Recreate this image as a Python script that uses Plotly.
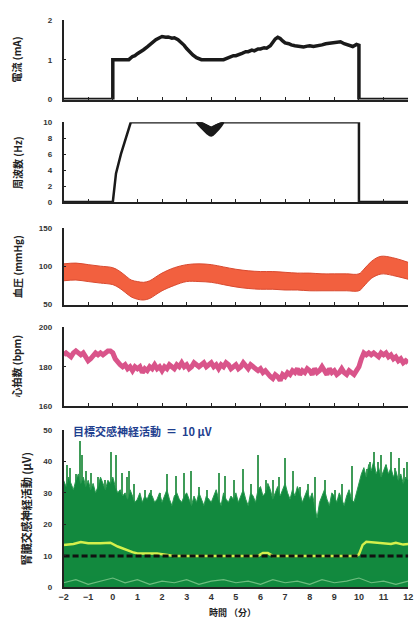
import plotly.graph_objects as go

W, H = 420, 626

# ---------------- data ----------------
# stimulation current (mA)
cur_t = [-2, 0, 0, 0.65, 0.8, 0.9, 1.0, 1.15, 1.25, 1.4, 1.5, 1.65, 1.75, 1.9, 2.0, 2.15, 2.25, 2.4, 2.5,
         2.65, 2.75, 2.9, 3.0, 3.15, 3.25, 3.4, 3.5, 3.6, 4.5, 4.65, 4.75, 4.9, 5.0, 5.15, 5.25, 5.4, 5.5,
         5.65, 5.75, 5.9, 6.0, 6.15, 6.25, 6.4, 6.5, 6.6, 6.7, 6.8, 6.9, 7.0, 7.15, 7.25, 7.4, 7.5, 7.65,
         7.75, 7.9, 8.0, 8.15, 8.25, 8.4, 8.5, 8.65, 8.75, 8.9, 9.0, 9.15, 9.25, 9.4, 9.5, 9.65, 9.75,
         9.9, 10.0, 10.0, 12]
cur_v = [0, 0, 1.0, 1.0, 1.08, 1.1, 1.15, 1.2, 1.25, 1.32, 1.38, 1.45, 1.5, 1.55, 1.58, 1.56, 1.57, 1.54,
         1.55, 1.5, 1.45, 1.36, 1.28, 1.18, 1.12, 1.05, 1.02, 1.0, 1.0, 1.04, 1.06, 1.1, 1.1, 1.15, 1.16,
         1.2, 1.2, 1.24, 1.22, 1.27, 1.27, 1.3, 1.29, 1.35, 1.45, 1.52, 1.56, 1.53, 1.47, 1.42, 1.4, 1.37,
         1.35, 1.34, 1.33, 1.32, 1.34, 1.35, 1.33, 1.34, 1.35, 1.37, 1.4, 1.41, 1.43, 1.44, 1.46, 1.45,
         1.4, 1.38, 1.34, 1.33, 1.38, 1.36, 0, 0]

# stimulation frequency (Hz)
frq_t = [-2, 0, 0.13, 0.33, 0.73, 3.4, 3.6, 3.8, 4.0, 4.2, 4.4, 4.5, 10.0, 10.0, 12]
frq_v = [0, 0, 3.6, 6.0, 10, 10, 9.9, 9.6, 9.3, 9.6, 9.9, 10, 10, 0, 0]
dip_t = [3.4, 3.6, 3.8, 4.0, 4.2, 4.4, 4.5]
dip_hi = [10, 9.9, 9.6, 9.3, 9.6, 9.9, 10]
dip_lo = [10, 9.3, 8.7, 8.3, 8.8, 9.5, 10]

# blood pressure band (mmHg)
bp_t = [-2, -1.5, -1, -0.5, 0, 0.25, 0.5, 0.75, 1, 1.25, 1.5, 1.75, 2, 2.5, 3, 3.5, 4, 4.5, 5, 5.5,
        6, 6.5, 7, 7.5, 8, 8.5, 9, 9.5, 10, 10.2, 10.5, 10.8, 11, 11.5, 12]
bp_hi = [103, 104, 102, 100, 98, 94, 88, 82, 80, 79, 81, 86, 91, 98, 102, 103, 102, 99, 96, 94,
         93, 93, 92, 91, 91, 90, 90, 90, 90, 96, 106, 112, 113, 110, 105]
bp_lo = [81, 82, 80, 78, 76, 72, 66, 60, 57, 56, 58, 63, 68, 75, 80, 80, 79, 76, 73, 71,
         70, 70, 69, 69, 68, 68, 68, 68, 68, 74, 84, 89, 90, 87, 83]

# heart rate (bpm), every 0.1 min from -2 to 12
hr_v = [186, 187, 186, 185, 187, 188, 187, 186, 187, 185,
        183, 184, 186, 187, 186, 187, 186, 187, 188, 188,
        187, 184, 182, 181, 180, 181, 179, 180, 178, 180,
        179, 180, 177, 179, 178, 180, 179, 181, 179, 180,
        178, 180, 179, 181, 180, 179, 181, 180, 182, 180,
        181, 179, 180, 182, 181, 180, 181, 182, 180, 181,
        182, 180, 181, 179, 181, 180, 182, 181, 179, 180,
        181, 179, 180, 182, 180, 179, 181, 180, 179, 178,
        179, 177, 178, 176, 175, 174, 176, 175, 173, 176,
        175, 177, 176, 178, 177, 179, 176, 178, 177, 179,
        178, 176, 179, 177, 178, 180, 178, 176, 179, 177,
        178, 176, 177, 179, 177, 176, 178, 177, 176, 178,
        180, 184, 187, 186, 187, 186, 187, 186, 185, 187,
        186, 187, 185, 186, 184, 185, 183, 184, 182, 183,
        182]

# renal sympathetic nerve activity (uV): dense envelope every 0.1 min
rsna_body = [34, 32, 35, 33, 31, 34, 36, 33, 35, 32,
             34, 31, 33, 30, 32, 35, 33, 31, 34, 33,
             35, 32, 30, 31, 29, 30, 28, 31, 29, 27,
             28, 30, 27, 29, 28, 30, 29, 27, 28, 30,
             27, 29, 31, 28, 26, 29, 30, 28, 27, 29,
             30, 28, 26, 29, 27, 30, 28, 26, 29, 28,
             27, 29, 31, 28, 26, 30, 28, 27, 29, 28,
             30, 27, 29, 31, 28, 26, 30, 29, 27, 31,
             32, 29, 30, 33, 31, 28, 30, 32, 29, 31,
             33, 30, 28, 31, 29, 32, 30, 27, 29, 31,
             28, 30, 26, 22, 27, 29, 31, 28, 26, 30,
             29, 27, 30, 28, 26, 29, 31, 28, 27, 30,
             33, 36, 38, 35, 39, 37, 40, 36, 38, 35,
             37, 39, 36, 38, 35, 37, 34, 36, 33, 35,
             34]
# tall individual bursts (time, height)
spike_t = [-1.87, -1.74, -1.5, -1.34, -1.25, -1.1, -0.88, -0.6, -0.35, -0.08, 0.1, 0.38, 0.55, 0.65,
           0.85, 1.3, 1.55, 1.9, 2.17, 2.56, 2.9, 3.16, 3.5, 3.8, 4.3, 4.55, 4.9, 5.28, 5.6, 5.87,
           6.2, 6.5, 6.75, 7.0, 7.3, 7.6, 7.9, 8.2, 8.6, 9.0, 9.3, 9.7, 9.95, 10.3, 10.45, 10.6,
           10.75, 10.9, 11.1, 11.3, 11.45, 11.6, 11.8, 11.95]
spike_v = [39, 38, 36, 46.5, 42, 37, 36.5, 35, 34, 43, 42, 36.5, 35, 37,
           33, 31, 31, 30, 36, 35.5, 36.5, 37, 32, 31, 36.5, 35.5, 34, 37.6, 33, 42,
           34, 34, 35, 41, 37, 32, 33, 35, 34, 31, 33, 38.6, 30, 37.6, 40, 43,
           40, 42, 39, 43, 38, 41, 38, 40]
# low-level baseline noise (uV), every 0.5 min
floor_v = [1.5, 2.5, 1.0, 2.0, 3.0, 1.5, 2.5, 1.0, 2.0, 1.5, 2.5, 1.0, 2.0, 2.5, 1.5,
           2.0, 1.0, 2.5, 1.5, 2.0, 1.0, 2.5, 1.5, 2.0, 3.0, 1.5, 2.0, 1.0, 2.0]
# mean activity (uV)
mean_t = [-2, -1.6, -1.3, -1.0, -0.5, -0.1, 0.2, 0.5, 0.8, 1.0, 1.5, 1.8, 2.5, 5.9, 6.1, 6.3, 6.5,
          9.9, 10.0, 10.15, 10.3, 10.6, 11.0, 11.3, 11.5, 11.8, 12]
mean_v = [13.5, 13.8, 14.4, 14.0, 14.0, 14.2, 13.0, 12.0, 11.2, 10.8, 10.7, 10.8, 10.0, 10.0, 10.9,
          10.9, 10.0, 10.0, 10.5, 13.5, 14.5, 14.3, 14.2, 13.8, 14.2, 13.6, 13.8]
target = 10

t_grid = [round(-2 + 0.1 * i, 1) for i in range(141)]
t_half = [-2 + 0.5 * i for i in range(29)]

# ---------------- layout helpers ----------------
X0, X1 = 60, 413
panels = [(16, 97), (120, 201), (227, 305), (328, 408), (432, 592)]


def ydom(top, bot):
    return [1 - bot / H, 1 - top / H]


num_font = dict(family="Liberation Sans, Arial", size=8, color="#333")
cjk = "Noto Sans CJK JP, Noto Sans, sans-serif"

fig = go.Figure()

# panel 1: current
fig.add_trace(go.Scatter(x=cur_t, y=cur_v, mode="lines", line=dict(color="#1a1a1a", width=3.5),
                         xaxis="x", yaxis="y"))
# panel 2: frequency
fig.add_trace(go.Scatter(x=dip_t, y=dip_hi, mode="lines", line=dict(color="#1a1a1a", width=2, shape="spline"),
                         xaxis="x2", yaxis="y2"))
fig.add_trace(go.Scatter(x=dip_t, y=dip_lo, mode="lines", fill="tonexty", fillcolor="#1a1a1a",
                         line=dict(color="#1a1a1a", width=2, shape="spline"), xaxis="x2", yaxis="y2"))
fig.add_trace(go.Scatter(x=frq_t, y=frq_v, mode="lines", line=dict(color="#1a1a1a", width=2.5),
                         xaxis="x2", yaxis="y2"))
# panel 3: blood pressure band
fig.add_trace(go.Scatter(x=bp_t, y=bp_lo, mode="lines", line=dict(color="#d84a30", width=1, shape="spline"),
                         xaxis="x3", yaxis="y3"))
fig.add_trace(go.Scatter(x=bp_t, y=bp_hi, mode="lines", fill="tonexty", fillcolor="#f2603f",
                         line=dict(color="#d84a30", width=1, shape="spline"), xaxis="x3", yaxis="y3"))
# panel 4: heart rate
fig.add_trace(go.Scatter(x=t_grid, y=hr_v, mode="lines", line=dict(color="#d9548a", width=5),
                         xaxis="x4", yaxis="y4"))
# panel 5: nerve activity
fig.add_trace(go.Scatter(x=t_grid, y=rsna_body, mode="lines", fill="tozeroy", fillcolor="#12893e",
                         line=dict(color="#2a9a50", width=1), xaxis="x5", yaxis="y5"))
fig.add_trace(go.Bar(x=spike_t, y=spike_v, width=0.05, marker=dict(color="#3f9b58", line_width=0),
                     xaxis="x5", yaxis="y5"))
fig.add_trace(go.Scatter(x=t_half, y=floor_v, mode="lines", line=dict(color="#b9e8b4", width=1.2),
                         opacity=0.55, xaxis="x5", yaxis="y5"))
fig.add_trace(go.Scatter(x=mean_t, y=mean_v, mode="lines", line=dict(color="#d4f04c", width=2.5),
                         xaxis="x5", yaxis="y5"))
fig.add_trace(go.Scatter(x=[-2, 12], y=[target, target], mode="lines",
                         line=dict(color="#111", width=3, dash="6px,3px"), xaxis="x5", yaxis="y5"))

y_ranges = [[0, 2], [0, 10], [50, 150], [160, 200], [0, 50]]
y_ticks = [[0, 1, 2], [0, 2, 4, 6, 8, 10], [50, 100, 150], [160, 180, 200], [0, 10, 20, 30, 40, 50]]
y_titles = ["電流 (mA)", "周波数 (Hz)", "血圧 (mmHg)", "心拍数 (bpm)", "腎臓交感神経活動 (μV)"]
x_ticks = list(range(-2, 13))

layout = dict(width=W, height=H, margin=dict(l=0, r=0, t=0, b=0), showlegend=False,
              plot_bgcolor="white", paper_bgcolor="white", bargap=0)
ann = []
for i, (top, bot) in enumerate(panels):
    k = "" if i == 0 else str(i + 1)
    last = i == 4
    layout["xaxis" + k] = dict(domain=[X0 / W, X1 / W], range=[-2, 12], anchor="y" + k,
                               showline=True, linecolor="#222", linewidth=1.5,
                               tickmode="array", tickvals=x_ticks,
                               ticktext=["<b>" + (("−" + str(-v)) if v < 0 else str(v)) + "</b>"
                                         for v in x_ticks],
                               ticks="" if last else "inside", ticklen=3, tickcolor="#222",
                               showticklabels=last, tickfont=dict(family="Liberation Sans, Arial",
                                                                  size=9, color="#333"),
                               showgrid=False, zeroline=False, fixedrange=True)
    layout["yaxis" + k] = dict(domain=ydom(top, bot), range=y_ranges[i], anchor="x" + k,
                               showline=True, linecolor="#222", linewidth=1.5,
                               tickmode="array", tickvals=y_ticks[i],
                               ticktext=["<b>%d</b>" % v for v in y_ticks[i]],
                               ticks="inside", ticklen=3,
                               tickcolor="#222", tickfont=num_font, ticklabelstandoff=8,
                               showgrid=False, zeroline=False, fixedrange=True)
    ann.append(dict(text="<b>" + y_titles[i] + "</b>", xref="paper", yref="paper",
                    x=(21 if last else 12) / W, y=1 - (top + bot) / 2 / H, textangle=-90,
                    xanchor="center", yanchor="middle",
                    showarrow=False, font=dict(family=cjk, size=(11 if last else 10), color="#222")))

ann.append(dict(text="<b>目標交感神経活動  ＝  10 μV</b>", xref="paper", yref="paper",
                x=68 / W, y=1 - 433 / H, xanchor="left", yanchor="middle", showarrow=False,
                font=dict(family=cjk, size=11, color="#1f3f8f")))
ann.append(dict(text="<b>時間 （分）</b>", xref="paper", yref="paper", x=233 / W, y=0,
                xanchor="center", yanchor="bottom", showarrow=False,
                font=dict(family=cjk, size=9, color="#222")))
layout["annotations"] = ann
fig.update_layout(**layout)
fig.write_html("out.html")
